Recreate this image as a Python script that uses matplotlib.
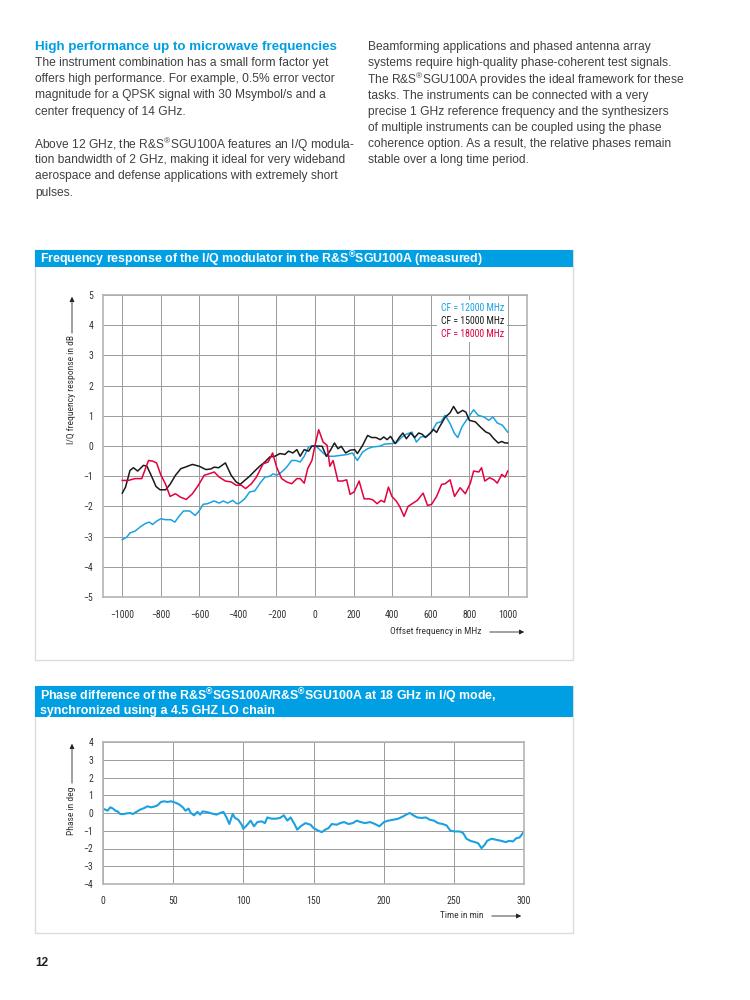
import matplotlib
matplotlib.use("Agg")
import matplotlib.pyplot as plt
from matplotlib.patches import Rectangle, FancyArrowPatch
import numpy as np

# ---- data: frequency response (offset MHz, dB) ----
cf12_f = [-1000, -977, -960, -934, -907, -881, -860, -843, -822, -801, -775, -748, -727, -706, -682,
          -650, -622, -601, -580, -558, -523, -497, -476, -453, -427, -406, -392, -365, -339, -313,
          -287, -260, -234, -217, -199, -173, -147, -121, -98, -77, -56, -33, -16, 10, 42, 63, 98,
          133, 168, 194, 220, 247, 273, 299, 334, 360, 395, 421, 448, 474, 503, 526, 549, 579, 605,
          631, 654, 675, 701, 724, 741, 762, 797, 823, 846, 876, 902, 923, 946, 972, 1000]
cf12_v = [-3.10, -3.02, -2.88, -2.82, -2.68, -2.57, -2.52, -2.60, -2.49, -2.41, -2.44, -2.44, -2.52,
          -2.33, -2.15, -2.15, -2.30, -2.15, -1.93, -1.91, -1.82, -1.89, -1.82, -1.89, -1.80, -1.91,
          -1.89, -1.75, -1.52, -1.49, -1.25, -1.03, -1.00, -0.92, -0.97, -0.86, -0.70, -0.48, -0.48,
          -0.53, -0.34, -0.03, 0.00, -0.03, -0.23, -0.34, -0.34, -0.31, -0.28, -0.23, -0.48, -0.20,
          -0.09, -0.03, -0.01, 0.06, 0.08, 0.10, 0.28, 0.39, 0.46, 0.13, 0.30, 0.32, 0.46, 0.76, 0.80,
          1.02, 0.74, 0.41, 0.28, 0.63, 0.96, 1.20, 1.02, 0.96, 0.85, 0.96, 0.76, 0.69, 0.46]

cf15_f = [-1000, -983, -960, -942, -920, -890, -872, -846, -825, -804, -775, -752, -724, -696, -682,
          -636, -601, -566, -540, -523, -500, -465, -435, -409, -388, -365, -339, -313, -287, -260,
          -234, -208, -182, -156, -138, -115, -94, -77, -56, -33, -16, 10, 37, 59, 80, 101, 119, 136,
          159, 182, 206, 220, 247, 273, 294, 316, 339, 357, 374, 392, 416, 439, 456, 474, 497, 517,
          538, 556, 573, 596, 614, 631, 643, 657, 675, 701, 719, 741, 766, 783, 801, 832, 858, 885,
          906, 928, 951, 969, 986, 1000]
cf15_v = [-1.56, -1.36, -0.81, -0.72, -0.83, -0.64, -0.67, -1.03, -1.34, -1.45, -1.45, -1.27, -0.97,
          -0.75, -0.72, -0.61, -0.67, -0.78, -0.76, -0.70, -0.72, -0.56, -0.97, -1.19, -1.27, -1.14,
          -1.00, -0.83, -0.67, -0.53, -0.36, -0.34, -0.25, -0.28, -0.17, -0.23, -0.12, -0.34, -0.12,
          -0.17, 0.00, 0.00, -0.01, -0.34, -0.14, 0.10, -0.09, -0.01, -0.23, -0.14, -0.12, -0.25, 0.02,
          0.35, 0.28, 0.28, 0.21, 0.30, 0.21, 0.32, 0.08, 0.30, 0.43, 0.24, 0.43, 0.28, 0.43, 0.39,
          0.28, 0.41, 0.55, 0.45, 0.60, 0.75, 0.95, 1.10, 1.31, 1.08, 1.18, 1.12, 0.85, 0.80, 0.63,
          0.47, 0.41, 0.24, 0.10, 0.15, 0.10, 0.10]

cf18_f = [-1000, -969, -934, -899, -864, -843, -822, -801, -775, -752, -724, -699, -668, -636, -605,
          -575, -549, -523, -497, -465, -435, -409, -383, -360, -330, -304, -269, -243, -220, -199,
          -173, -147, -121, -94, -77, -56, -38, -16, 2, 19, 42, 63, 77, 94, 119, 142, 164, 182, 203,
          229, 255, 281, 299, 322, 343, 360, 381, 399, 421, 439, 462, 483, 509, 531, 561, 584, 605,
          631, 657, 675, 701, 724, 753, 780, 806, 823, 850, 864, 881, 906, 928, 946, 969, 986, 1000]
cf18_v = [-1.14, -1.14, -1.08, -1.08, -0.48, -0.50, -0.56, -0.94, -1.27, -1.67, -1.58, -1.69, -1.77,
          -1.58, -1.30, -0.97, -0.92, -0.86, -1.03, -1.16, -1.19, -1.30, -1.30, -1.41, -1.25, -1.03,
          -0.59, -0.53, -0.23, -0.70, -1.08, -1.19, -1.25, -1.08, -1.08, -1.23, -0.75, -0.48, 0.08,
          0.54, 0.13, 0.02, -0.67, -0.48, -1.16, -1.16, -1.12, -1.60, -1.52, -1.16, -1.75, -1.75,
          -1.78, -1.91, -1.80, -1.86, -1.36, -1.67, -1.82, -2.00, -2.33, -2.00, -1.89, -1.80, -1.56,
          -1.97, -1.93, -1.67, -1.27, -1.25, -1.12, -1.67, -1.38, -1.58, -1.23, -0.83, -0.86, -0.72,
          -1.16, -1.05, -1.12, -1.23, -0.94, -1.03, -0.83]

freq_ticks = [-1000, -800, -600, -400, -200, 0, 200, 400, 600, 800, 1000]
db_ticks = [-5, -4, -3, -2, -1, 0, 1, 2, 3, 4, 5]
legend_labels = ["CF = 12000 MHz", "CF = 15000 MHz", "CF = 18000 MHz"]

# ---- data: phase difference (min, deg) ----
phase_t = [0, 1.7, 3.3, 5.2, 7.1, 8.8, 10.4, 12.3, 14.7, 17.1, 19.4, 21.3, 23.7, 26.5, 29.4, 31.8,
           34.1, 36.5, 38.9, 41.2, 43.6, 46.0, 48.3, 50.2, 52.1, 54.5, 56.9, 58.8, 60.9, 62.6, 64.9,
           67.3, 69.2, 71.1, 73.5, 76.3, 79.1, 81.0, 83.4, 85.8, 88.0, 90.0, 92.4, 94.1, 96.4, 98.8,
           100.0, 102.4, 105.2, 107.6, 110.0, 113.0, 115.4, 117.1, 120.1, 123.2, 126.1, 128.9, 131.3,
           133.7, 136.7, 138.4, 140.8, 144.3, 147.9, 150.0, 153.6, 155.9, 158.3, 160.7, 163.0, 166.6,
           169.0, 171.8, 174.9, 178.0, 180.8, 183.6, 186.7, 190.3, 193.8, 196.9, 200.2, 203.3, 206.8,
           210.4, 213.9, 216.8, 218.7, 221.1, 223.9, 227.0, 230.1, 232.9, 235.8, 238.8, 242.0, 244.8,
           247.6, 250.7, 254.3, 256.6, 259.0, 261.8, 265.0, 267.3, 269.7, 272.0, 273.7, 276.8, 280.3,
           283.9, 287.0, 289.3, 292.2, 294.5, 296.9, 300.0]
phase_v = [0.23, 0.19, 0.13, 0.32, 0.25, 0.13, 0.09, -0.06, -0.06, -0.02, 0.00, -0.06, 0.06, 0.19,
           0.28, 0.38, 0.32, 0.36, 0.43, 0.62, 0.66, 0.62, 0.66, 0.62, 0.57, 0.47, 0.32, 0.13, 0.25,
           0.00, -0.13, 0.06, -0.09, 0.09, 0.06, 0.00, -0.06, -0.09, 0.00, 0.06, -0.25, -0.62, -0.06,
           -0.28, -0.38, -0.66, -0.89, -0.70, -0.43, -0.75, -0.51, -0.47, -0.57, -0.25, -0.32, -0.32,
           -0.28, -0.13, -0.43, -0.25, -0.66, -0.94, -0.75, -0.57, -0.66, -0.85, -1.00, -1.08, -0.94,
           -0.85, -0.62, -0.66, -0.57, -0.51, -0.62, -0.57, -0.43, -0.51, -0.57, -0.51, -0.62, -0.75,
           -0.51, -0.43, -0.38, -0.32, -0.19, -0.06, 0.00, -0.13, -0.25, -0.28, -0.25, -0.38, -0.43,
           -0.57, -0.62, -0.70, -1.00, -1.04, -1.04, -1.13, -1.45, -1.57, -1.64, -1.70, -1.98, -1.79,
           -1.57, -1.45, -1.51, -1.57, -1.64, -1.57, -1.60, -1.42, -1.38, -1.04]

time_ticks = [0, 50, 100, 150, 200, 250, 300]
deg_ticks = [-4, -3, -2, -1, 0, 1, 2, 3, 4]

# ---- page text ----
REG = "$^{\\mathregular{\u00ae}}$"
heading = "High performance up to microwave frequencies"
left_lines = ["The instrument combination has a small form factor yet",
              "offers high performance. For example, 0.5% error vector",
              "magnitude for a QPSK signal with 30 Msymbol/s and a",
              "center frequency of 14 GHz.",
              "",
              "Above 12 GHz, the R&S" + REG + "SGU100A features an I/Q modula-",
              "tion bandwidth of 2 GHz, making it ideal for very wideband",
              "aerospace and defense applications with extremely short",
              "pulses."]
right_lines = ["Beamforming applications and phased antenna array",
               "systems require high-quality phase-coherent test signals.",
               "The R&S" + REG + "SGU100A provides the ideal framework for these",
               "tasks. The instruments can be connected with a very",
               "precise 1 GHz reference frequency and the synthesizers",
               "of multiple instruments can be coupled using the phase",
               "coherence option. As a result, the relative phases remain",
               "stable over a long time period."]

RS_BLUE = "#009fe3"
LINE_BLUE = "#1ba1e2"
RED = "#e3003d"
TEXT = "#404040"
GRID = "#9a9a9a"

plt.rcParams['font.family'] = ['Liberation Sans', 'DejaVu Sans']
plt.rcParams['mathtext.fontset'] = 'custom'
plt.rcParams['mathtext.rm'] = 'Liberation Sans'
NARROW = ['Liberation Sans Narrow', 'Roboto Condensed', 'Liberation Sans', 'DejaVu Sans']

fig = plt.figure(figsize=(7.5, 10), dpi=100)


def fx(x):
    return x / 750.0


def fy(y):
    return 1 - y / 1000.0


def arrow(x0, y0, x1, y1):
    fig.add_artist(FancyArrowPatch((fx(x0), fy(y0)), (fx(x1), fy(y1)), transform=fig.transFigure,
                                   arrowstyle='-|>', mutation_scale=7, lw=0.6, color='#222222'))


def panel(top, head_bottom, bottom, title):
    fig.add_artist(Rectangle((fx(35), fy(bottom)), fx(573) - fx(35), (bottom - top) / 1000.0,
                             transform=fig.transFigure, facecolor='none', edgecolor='#dcdcdc', lw=1))
    fig.add_artist(Rectangle((fx(35), fy(head_bottom)), fx(573) - fx(35), (head_bottom - top) / 1000.0,
                             transform=fig.transFigure, facecolor=RS_BLUE, edgecolor='none'))
    fig.text(fx(40), fy((top + head_bottom) / 2.0), title, color='white', fontsize=8.9,
             fontweight='bold', va='center', ha='left', linespacing=1.05)


def style_axes(ax):
    for s in ax.spines.values():
        s.set_color('#b4b4b4')
        s.set_linewidth(1.2)
    ax.grid(True, color=GRID, lw=0.7)
    ax.set_axisbelow(True)
    ax.tick_params(length=0, labelsize=7, labelcolor='#333333')
    for lab in ax.get_xticklabels() + ax.get_yticklabels():
        lab.set_family(NARROW)


def body_line(x, y, line):
    # mathtext lines sit a little high and to the right, nudge them back
    if "$" in line:
        x, y = x - 1, y + 1.5
    fig.text(fx(x), fy(y), line, color=TEXT, fontsize=8.65, va='baseline')


# ---- page text ----
fig.text(fx(35), fy(50), heading, color=RS_BLUE, fontsize=9.6, fontweight='bold', va='baseline')
for i, line in enumerate(left_lines):
    body_line(35, 66 + i * 16.2, line)
for i, line in enumerate(right_lines):
    body_line(368, 50 + i * 16.2, line)
fig.text(fx(35), fy(963), "12", color='#222222', fontsize=8.5, fontweight='bold', va='center')

# ---- chart 1 ----
panel(250, 267, 660, "Frequency response of the I/Q modulator in the R&S" + REG + "SGU100A (measured)")
ax1 = fig.add_axes([fx(103), fy(597), fx(527) - fx(103), (597 - 295) / 1000.0])
ax1.plot(cf12_f, cf12_v, color=LINE_BLUE, lw=1.1, label=legend_labels[0])
ax1.plot(cf15_f, cf15_v, color='#1a1a1a', lw=1.1, label=legend_labels[1])
ax1.plot(cf18_f, cf18_v, color=RED, lw=1.1, label=legend_labels[2])
ax1.set_xlim(-1100, 1100)
ax1.set_ylim(-5, 5)
ax1.set_xticks(freq_ticks)
ax1.set_yticks(db_ticks)
ax1.tick_params(axis='x', pad=9)
ax1.tick_params(axis='y', pad=7)
style_axes(ax1)
leg = ax1.legend(loc='upper left', bbox_to_anchor=(0.777, 1.0), handlelength=0, handletextpad=0,
                 frameon=True, fancybox=False, borderpad=0.35, labelspacing=0.3,
                 prop={'family': NARROW, 'size': 7})
leg.get_frame().set_facecolor('white')
leg.get_frame().set_edgecolor('none')
leg.get_frame().set_alpha(1)
for txt, c in zip(leg.get_texts(), [LINE_BLUE, '#1a1a1a', RED]):
    txt.set_color(c)

fig.text(fx(72), fy(390), "I/Q frequency response in dB", rotation=90, ha='center', va='center',
         fontsize=6.8, color='#333333', family=NARROW)
arrow(72, 336, 72, 294)
fig.text(fx(481), fy(632), "Offset frequency in MHz", ha='right', va='center', fontsize=6.8,
         color='#333333', family=NARROW)
arrow(487, 632, 527, 632)

# ---- chart 2 ----
panel(686, 717, 933, "Phase difference of the R&S" + REG + "SGS100A/R&S" + REG
      + "SGU100A at 18 GHz in I/Q mode,\nsynchronized using a 4.5 GHZ LO chain")
ax2 = fig.add_axes([fx(103), fy(884), fx(524) - fx(103), (884 - 742) / 1000.0])
ax2.plot(phase_t, phase_v, color=LINE_BLUE, lw=1.5)
ax2.set_xlim(0, 300)
ax2.set_ylim(-4, 4)
ax2.set_xticks(time_ticks)
ax2.set_yticks(deg_ticks)
ax2.tick_params(axis='x', pad=9)
ax2.tick_params(axis='y', pad=7)
style_axes(ax2)

fig.text(fx(72), fy(811), "Phase in deg", rotation=90, ha='center', va='center',
         fontsize=6.8, color='#333333', family=NARROW)
arrow(72, 786, 72, 741)
fig.text(fx(483), fy(916), "Time in min", ha='right', va='center', fontsize=6.8,
         color='#333333', family=NARROW)
arrow(489, 916, 524, 916)

fig.savefig("out.png", dpi=100, facecolor='white')
